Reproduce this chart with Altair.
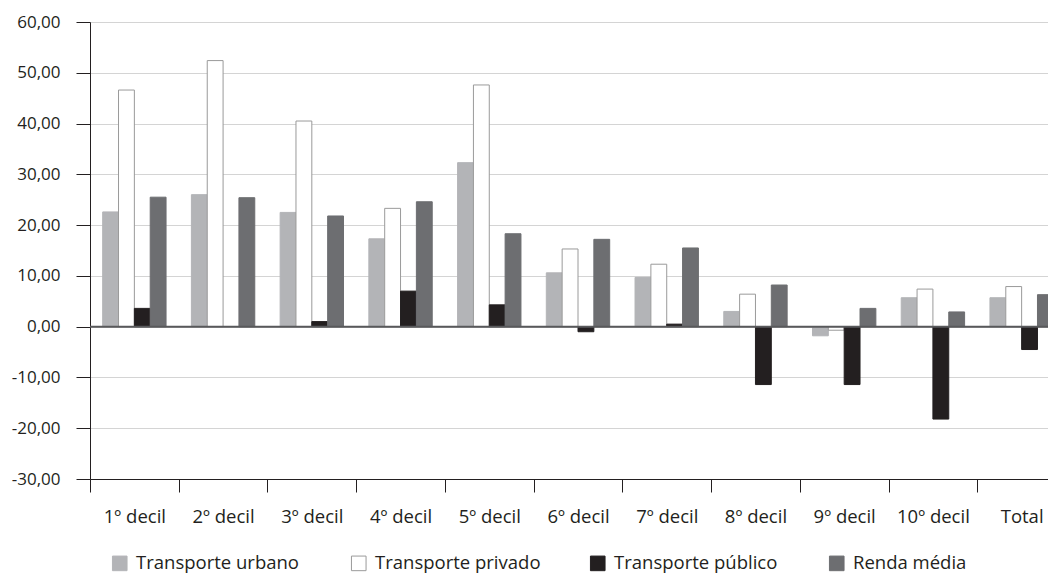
import pandas as pd
import altair as alt

categorias = ["1º decil", "2º decil", "3º decil", "4º decil", "5º decil", "6º decil",
              "7º decil", "8º decil", "9º decil", "10º decil", "Total"]
series = ["Transporte urbano", "Transporte privado", "Transporte público", "Renda média"]

transporte_urbano = [22.6, 26.0, 22.5, 17.3, 32.3, 10.6, 9.7, 3.0, -1.8, 5.7, 5.7]
transporte_privado = [46.6, 52.4, 40.5, 23.3, 47.6, 15.3, 12.3, 6.4, -0.7, 7.4, 7.9]
transporte_publico = [3.6, None, 1.0, 7.0, 4.3, -1.0, 0.5, -11.4, -11.4, -18.2, -4.5]
renda_media = [25.5, 25.4, 21.8, 24.6, 18.3, 17.2, 15.5, 8.2, 3.6, 2.9, 6.3]

cores = ["#b3b4b7", "#ffffff", "#231f20", "#6d6e71"]
contornos = ["#b3b4b7", "#9a9a9a", "#231f20", "#6d6e71"]

valores = [transporte_urbano, transporte_privado, transporte_publico, renda_media]
linhas = []
for serie, lista in zip(series, valores):
    for cat, v in zip(categorias, lista):
        linhas.append({"categoria": cat, "serie": serie, "valor": v})
df = pd.DataFrame(linhas)

legenda = alt.Legend(
    title=None,
    orient="none",
    legendX=20.5,
    legendY=532,
    direction="horizontal",
    gridAlign="all",
    columnPadding=46,
    symbolType="square",
    symbolSize=213,
    symbolStrokeWidth=1,
    labelFontSize=18.5,
    labelColor="#231f20",
    labelOffset=7,
    labelLimit=300,
)

barras = alt.Chart(df).mark_bar(strokeWidth=1).encode(
    x=alt.X("categoria:N", sort=categorias, title=None,
            scale=alt.Scale(paddingInner=0, paddingOuter=0),
            axis=alt.Axis(
                labelAngle=0,
                tickBand="extent",
                domainColor="#231f20",
                tickColor="#231f20",
                tickSize=13,
                labelPadding=15,
                labelFontSize=18.5,
                labelColor="#231f20",
            )),
    xOffset=alt.XOffset("serie:N", sort=series,
                        scale=alt.Scale(paddingInner=0, paddingOuter=0.8)),
    y=alt.Y("valor:Q", title=None,
            scale=alt.Scale(domain=[-30, 60], nice=False, zero=False),
            axis=alt.Axis(
                values=list(range(-30, 61, 10)),
                labelExpr="replace(replace(format(datum.value, '.2f'), '.', ','), '\u2212', '-')",
                tickSize=14,
                labelPadding=16,
                labelFontSize=17,
                labelColor="#231f20",
                domainColor="#231f20",
                tickColor="#231f20",
                gridColor="#d4d4d4",
            )),
    color=alt.Color("serie:N", sort=series,
                    scale=alt.Scale(domain=series, range=cores),
                    legend=legenda),
    stroke=alt.Stroke("serie:N", sort=series,
                      scale=alt.Scale(domain=series, range=contornos),
                      legend=legenda),
)

zero = alt.Chart(pd.DataFrame({"y": [0]})).mark_rule(
    color="#58595b", strokeWidth=2
).encode(y=alt.Y("y:Q", title=None))

# the reference is cropped on the right, so the plot runs past the svg edge
chart = alt.layer(barras, zero).properties(
    width=976,
    height=457,
    autosize=alt.AutoSizeParams(type="none"),
    padding={"left": 82, "top": 14, "right": -18, "bottom": 94},
).configure_view(
    stroke=None
).configure(
    font="Open Sans"
)

chart.save("out.html", embed_options={"renderer": "svg", "actions": False})
